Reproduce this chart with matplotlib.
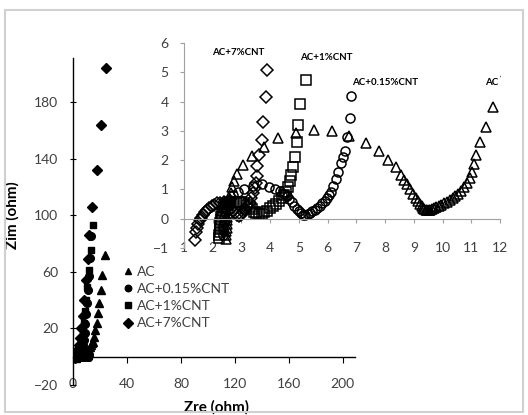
import matplotlib
matplotlib.use("Agg")
import matplotlib.pyplot as plt
from matplotlib.patches import Rectangle

plt.rcParams['font.family'] = ['Lato', 'DejaVu Sans']

# Nyquist data (Zre, Zim in ohm)
ac_zre = [2.45, 2.46, 2.47, 2.48, 2.49, 2.5, 2.51, 2.53, 2.55, 2.57, 2.6, 2.63, 2.68, 2.75,
          2.85, 3.05, 3.38, 3.8, 4.28, 4.9, 5.52, 6.14, 6.75, 7.33, 7.8, 8.1, 8.37, 8.54,
          8.66, 8.77, 8.88, 8.97, 9.06, 9.14, 9.21, 9.27, 9.32, 9.37, 9.42, 9.47, 9.52, 9.57,
          9.63, 9.7, 9.78, 9.86, 9.95, 10.05, 10.15, 10.25, 10.35, 10.45, 10.55, 10.65, 10.75,
          10.85, 10.95, 11.02, 11.1, 11.18, 11.3, 11.5, 11.76,
          12.2, 12.8, 13.5, 14.2, 15.0, 15.8, 16.5, 17.5, 18.3, 19.5, 20.5, 21.7, 23.7]
ac_zim = [-0.68, -0.55, -0.42, -0.3, -0.18, -0.06, 0.06, 0.2, 0.35, 0.5, 0.68, 0.88, 1.1, 1.3,
          1.52, 1.84, 2.14, 2.46, 2.74, 2.92, 3.02, 3.0, 2.82, 2.6, 2.32, 2.0, 1.75, 1.5,
          1.33, 1.17, 1.01, 0.86, 0.72, 0.6, 0.5, 0.42, 0.36, 0.32, 0.3, 0.29, 0.3, 0.31,
          0.33, 0.36, 0.4, 0.44, 0.48, 0.53, 0.58, 0.64, 0.7, 0.78, 0.86, 0.96, 1.08,
          1.22, 1.4, 1.6, 1.88, 2.18, 2.62, 3.13, 3.82,
          5.0, 6.5, 8.3, 9.6, 10.7, 14.0, 18.5, 24.0, 30.7, 38.0, 47.0, 57.5, 71.6]

c015_zre = [2.35, 2.36, 2.37, 2.38, 2.4, 2.43, 2.47, 2.52, 2.6, 2.72, 2.88, 3.1, 3.4, 3.7,
            3.95, 4.17, 4.34, 4.47, 4.57, 4.66, 4.75, 4.83, 4.92, 5.0, 5.08, 5.15, 5.22,
            5.3, 5.38, 5.46, 5.55, 5.64, 5.73, 5.82, 5.9, 5.98, 6.05, 6.12, 6.2, 6.29, 6.37,
            6.45, 6.52, 6.6, 6.68, 6.78, 6.8,
            7.2, 7.7, 8.2, 8.7, 9.2, 9.7, 10.2, 10.8, 11.5, 12.4, 13.5]
c015_zim = [-0.55, -0.4, -0.25, -0.1, 0.05, 0.2, 0.35, 0.5, 0.65, 0.8, 0.92, 1.03, 1.13, 1.17,
            1.1, 1.02, 0.94, 0.86, 0.78, 0.67, 0.56, 0.45, 0.34, 0.25, 0.18, 0.13, 0.12,
            0.15, 0.2, 0.25, 0.31, 0.38, 0.45, 0.53, 0.61, 0.7, 0.8, 0.92, 1.13, 1.35, 1.61,
            1.89, 2.1, 2.32, 2.8, 3.44, 4.18,
            5.8, 8.5, 12.0, 17.0, 23.0, 30.0, 38.0, 47.0, 57.0, 70.0, 85.6]

c1_zre = [2.22, 2.23, 2.24, 2.25, 2.26, 2.27, 2.28, 2.3, 2.32, 2.35, 2.38, 2.42, 2.47, 2.53,
          2.6, 2.7, 2.8, 2.9, 3.0, 3.1, 3.2, 3.28, 3.36, 3.44, 3.52, 3.6, 3.7, 3.8, 3.9,
          4.0, 4.1, 4.2, 4.3, 4.4, 4.48, 4.55, 4.62, 4.68, 4.74, 4.8, 4.87, 4.92, 4.97,
          5.05, 5.25,
          5.6, 6.1, 6.7, 7.3, 8.0, 8.8, 9.7, 10.6, 11.6, 13.0, 15.0]
c1_zim = [-0.65, -0.55, -0.45, -0.35, -0.25, -0.15, -0.05, 0.05, 0.15, 0.25, 0.35, 0.43, 0.5, 0.55,
          0.57, 0.58, 0.58, 0.57, 0.56, 0.53, 0.47, 0.4, 0.32, 0.24, 0.18, 0.15, 0.17, 0.22, 0.28,
          0.35, 0.43, 0.51, 0.6, 0.7, 0.8, 0.9, 1.1, 1.3, 1.5, 1.78, 2.12, 2.62, 3.2,
          3.92, 4.72,
          6.5, 9.0, 13.0, 18.0, 24.0, 32.0, 40.0, 49.3, 61.5, 75.6, 93.0]

c7_zre = [1.38, 1.42, 1.46, 1.5, 1.55, 1.6, 1.66, 1.73, 1.8, 1.88, 1.97, 2.06, 2.16, 2.27,
          2.38, 2.48, 2.57, 2.65, 2.72, 2.79, 2.86, 2.93, 3.0, 3.07, 3.14, 3.21, 3.28, 3.34,
          3.4, 3.46, 3.5, 3.53, 3.55, 3.61, 3.7, 3.74, 3.85, 3.88,
          4.5, 5.3, 6.2, 7.2, 8.3, 9.5, 10.8, 12.2, 14.3, 17.5, 20.5, 24.4]
c7_zim = [-0.73, -0.44, -0.3, -0.18, -0.06, 0.04, 0.13, 0.22, 0.3, 0.37, 0.43, 0.48, 0.52, 0.55,
          0.56, 0.53, 0.46, 0.37, 0.28, 0.19, 0.12, 0.1, 0.14, 0.22, 0.32, 0.43, 0.55, 0.7,
          0.88, 1.05, 1.22, 1.47, 1.81, 2.18, 2.68, 3.3, 4.17, 5.08,
          8.0, 13.0, 20.0, 29.0, 40.0, 54.0, 69.0, 86.0, 106.0, 132.0, 163.5, 203.7]

labels = ['AC', 'AC+0.15%CNT', 'AC+1%CNT', 'AC+7%CNT']
markers = ['^', 'o', 's', 'D']
series = [(ac_zre, ac_zim), (c015_zre, c015_zim), (c1_zre, c1_zim), (c7_zre, c7_zim)]

main_xticks = [0, 40, 80, 120, 160, 200]
main_yticks = [-20, 20, 60, 100, 140, 180]
inset_xticks = list(range(1, 13))
inset_yticks = list(range(-1, 7))
inset_zim_max = 5.2   # the inset chart only holds the high-frequency part

# inset annotations: (text, x, y)
inset_notes = [('AC+7%CNT', 2.88, 5.67), ('AC+1%CNT', 5.95, 5.5),
               ('AC+0.15%CNT', 8.0, 4.64), ('AC', 11.7, 4.64)]

fig = plt.figure(figsize=(5.28, 4.15), dpi=100)
fig.patches.append(Rectangle((0.01, 0.007), 0.98, 0.97, transform=fig.transFigure,
                             fill=False, edgecolor='#d0d0d0', linewidth=1.5))

tick_color = '#404040'

# main plot
ax = fig.add_axes([0.1383, 0.0723, 0.534, 0.7879])
sizes = [5.5, 5.5, 5, 5.5]
for (x, y), m, lab, s in zip(series, markers, labels, sizes):
    ax.plot(x, y, linestyle='none', marker=m, markersize=s, color='black', label=lab)
ax.set_xlim(0, 209)
ax.set_ylim(-20, 211)
ax.set_xticks(main_xticks)
ax.set_yticks(main_yticks)
ax.spines['top'].set_visible(False)
ax.spines['right'].set_visible(False)
ax.spines['bottom'].set_position(('data', 0))
ax.spines['left'].set_linewidth(1.0)
ax.spines['bottom'].set_linewidth(1.0)
ax.tick_params(axis='x', direction='out', length=4, pad=11, labelsize=10, colors=tick_color)
ax.tick_params(axis='y', direction='inout', length=5, pad=8, labelsize=10, colors=tick_color)
ax.tick_params(axis='both', color='black')
ax.set_xlabel('Zre (ohm)', fontsize=11, fontweight='bold', labelpad=0)
ax.set_ylabel('Zim (ohm)', fontsize=11, fontweight='bold')
ax.xaxis.set_label_coords(0.51, -0.045)
ax.yaxis.set_label_coords(-0.19, 0.52)
ax.legend(loc='upper left', bbox_to_anchor=(0.232, 0.36), bbox_transform=fig.transFigure,
          frameon=False, fontsize=10, handletextpad=0.25, labelspacing=0.38,
          handlelength=0.8, borderaxespad=0, borderpad=0, markerscale=0.85,
          labelcolor=tick_color)

# inset zoom
ins = fig.add_axes([0.3485, 0.4024, 0.5985, 0.494])
ins.patch.set_alpha(0)
for (x, y), m in zip(series, markers):
    xi = [a for a, b in zip(x, y) if b <= inset_zim_max]
    yi = [b for b in y if b <= inset_zim_max]
    ins.plot(xi, yi, linestyle='none', marker=m, markersize=6.5, markerfacecolor='none',
             markeredgecolor='black', markeredgewidth=1.1)
ins.set_xlim(1, 12)
ins.set_ylim(-1, 6)
ins.set_xticks(inset_xticks)
ins.set_yticks(inset_yticks)
ins.spines['top'].set_visible(False)
ins.spines['right'].set_visible(False)
ins.spines['bottom'].set_position(('data', 0))
for sp in ['left', 'bottom']:
    ins.spines[sp].set_color('#a0a0a0')
ins.tick_params(axis='x', direction='out', length=3, pad=14, labelsize=10,
                colors=tick_color, color='#a0a0a0')
ins.tick_params(axis='y', direction='out', length=3, pad=8, labelsize=10,
                colors=tick_color, color='#a0a0a0')
for txt, tx, ty in inset_notes:
    ins.text(tx, ty, txt, fontsize=7, fontweight='bold', ha='center', va='center')

fig.savefig('out.png', dpi=100)
